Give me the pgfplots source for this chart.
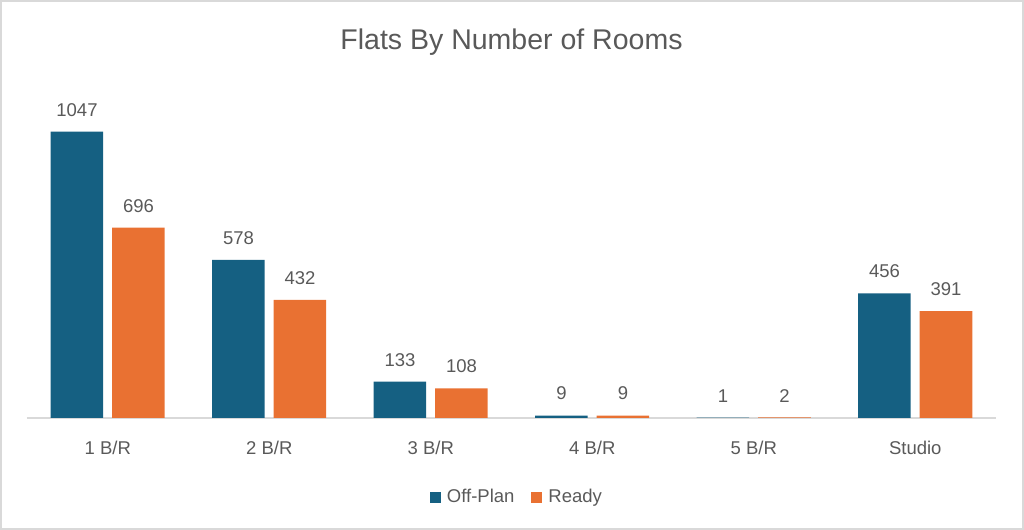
\documentclass[border=0pt]{standalone}
\usepackage{pgfplots}
\pgfplotsset{compat=1.18}
\usepackage{fontspec}
\setmainfont{Liberation Sans}
\definecolor{cblue}{HTML}{156082}
\definecolor{corange}{HTML}{E97132}
\definecolor{ctext}{HTML}{595959}
\definecolor{cline}{HTML}{D9D9D9}
\pgfplotsset{
  sqlegend/.style={legend image code/.code={\fill[##1] (0pt,-2.75pt) rectangle (5.5pt,2.75pt); \path (8.5pt,0pt);}},
}
\begin{document}
\begin{tikzpicture}
\useasboundingbox (-13.5pt,-56pt) rectangle (498.5pt,209pt);
\draw[cline, line width=1pt] (-13pt,-55.5pt) rectangle (498pt,208.5pt);
\begin{axis}[
  at={(0pt,0pt)}, anchor=south west,
  scale only axis, width=484.5pt, height=164.1pt,
  ybar=4.5pt, bar width=26.25pt,
  xmin=-0.5, xmax=5.5, ymin=0, ymax=1200,
  xtick=data, xticklabels={1 B/R,2 B/R,3 B/R,4 B/R,5 B/R,Studio},
  major tick length=0pt,
  xticklabel style={anchor=base, yshift=-18.5pt, font=\fontsize{9.25pt}{11pt}\selectfont, text=ctext},
  hide y axis,
  axis x line=bottom, axis line style={-, draw=cline, line width=0.75pt},
  /pgf/number format/assume math mode=true,
  /pgf/number format/1000 sep={},
  nodes near coords,
  every node near coord/.append style={inner sep=0pt, yshift=7.5pt, font=\fontsize{9.25pt}{11pt}\selectfont, text=ctext},
  title={Flats By Number of Rooms},
  title style={at={(0.5,1)}, anchor=base, yshift=14pt, font=\fontsize{14.25pt}{17pt}\selectfont, text=ctext},
  legend columns=2,
  legend style={at={(0.5046,-0.241)}, anchor=center, draw=none, fill=none,
    /tikz/every even column/.append style={column sep=8.5pt},
    nodes={inner sep=0pt, text=ctext, font=\fontsize{9.25pt}{11pt}\selectfont}},
]
\addplot[fill=cblue, draw=none, sqlegend] coordinates {(0,1047) (1,578) (2,133) (3,9) (4,1) (5,456)};
\addplot[fill=corange, draw=none, sqlegend] coordinates {(0,696) (1,432) (2,108) (3,9) (4,2) (5,391)};
\legend{Off-Plan, Ready}
\end{axis}
\end{tikzpicture}
\end{document}
